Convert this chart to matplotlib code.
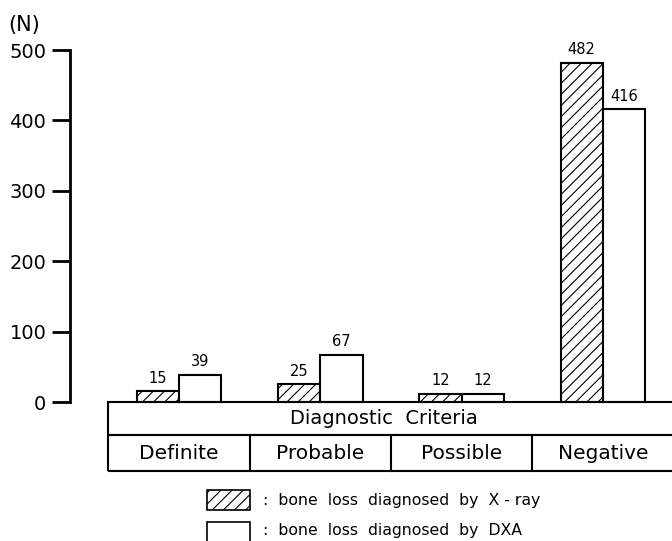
import numpy as np
import matplotlib
matplotlib.use("Agg")
import matplotlib.pyplot as plt
from matplotlib.patches import Rectangle

plt.rcParams['font.family'] = ['DejaVu Sans']
plt.rcParams['hatch.linewidth'] = 0.8

# data
categories = ["Definite", "Probable", "Possible", "Negative"]
xray = [15, 25, 12, 482]
dxa = [39, 67, 12, 416]
yticks = [0, 100, 200, 300, 400, 500]

W, H = 672, 541
fig = plt.figure(figsize=(W / 100, H / 100), dpi=100)

# axes placed in pixel terms: spine at x=70, 0 at y=402, 500 at y=50
ax = fig.add_axes([70 / W, (H - 402) / H, (W - 70) / W, (402 - 50) / H])
spacing = 141.3
ax.set_xlim((70 - 179) / spacing, (W - 179) / spacing)
ax.set_ylim(0, 500)

x = np.arange(len(categories))
bw = 0.3
ax.bar(x - bw / 2, xray, bw, facecolor='white', edgecolor='black',
       hatch='///', linewidth=1.5, clip_on=False)
ax.bar(x + bw / 2, dxa, bw, facecolor='white', edgecolor='black',
       linewidth=1.5, clip_on=False)

for xi, a, b in zip(x, xray, dxa):
    ax.text(xi - bw / 2, a + 8, str(a), ha='center', va='bottom', fontsize=10.5)
    ax.text(xi + bw / 2, b + 8, str(b), ha='center', va='bottom', fontsize=10.5)

for s in ['top', 'right', 'bottom']:
    ax.spines[s].set_visible(False)
ax.spines['left'].set_linewidth(2)
ax.set_xticks([])
ax.set_yticks(yticks)
ax.tick_params(axis='y', length=13, width=2, labelsize=14, pad=4)

# table below the axis
row1, row2 = -47, -98
lw = 1.5
ax.add_patch(Rectangle((-0.5, row1), 4.5, -row1, facecolor='none',
                       edgecolor='black', linewidth=lw, clip_on=False))
ax.add_patch(Rectangle((-0.5, row2), 4.5, row1 - row2, facecolor='none',
                       edgecolor='black', linewidth=lw, clip_on=False))
for b in [0.5, 1.5, 2.5]:
    ax.plot([b, b], [row1, row2], color='black', linewidth=lw, clip_on=False)
ax.text(1.45, row1 / 2, "Diagnostic  Criteria", ha='center', va='center',
        fontsize=14)
for xi, c in zip(x, categories):
    ax.text(xi, (row1 + row2) / 2, c, ha='center', va='center', fontsize=14.5)

fig.text(8 / W, 1 - 25 / H, "(N)", ha='left', va='center', fontsize=15)

# legend
fig.patches.append(Rectangle((207 / W, 1 - 510 / H), 43 / W, 20 / H,
                             transform=fig.transFigure, facecolor='white',
                             edgecolor='black', hatch='///', linewidth=1.2))
fig.patches.append(Rectangle((207 / W, 1 - 545 / H), 43 / W, 23 / H,
                             transform=fig.transFigure, facecolor='white',
                             edgecolor='black', linewidth=1.2))
fig.text(263 / W, 1 - 500 / H, ":  bone  loss  diagnosed  by  X - ray",
         ha='left', va='center', fontsize=11.3)
fig.text(263 / W, 1 - 531 / H, ":  bone  loss  diagnosed  by  DXA",
         ha='left', va='center', fontsize=11.3)

fig.savefig("out.png", dpi=100)
